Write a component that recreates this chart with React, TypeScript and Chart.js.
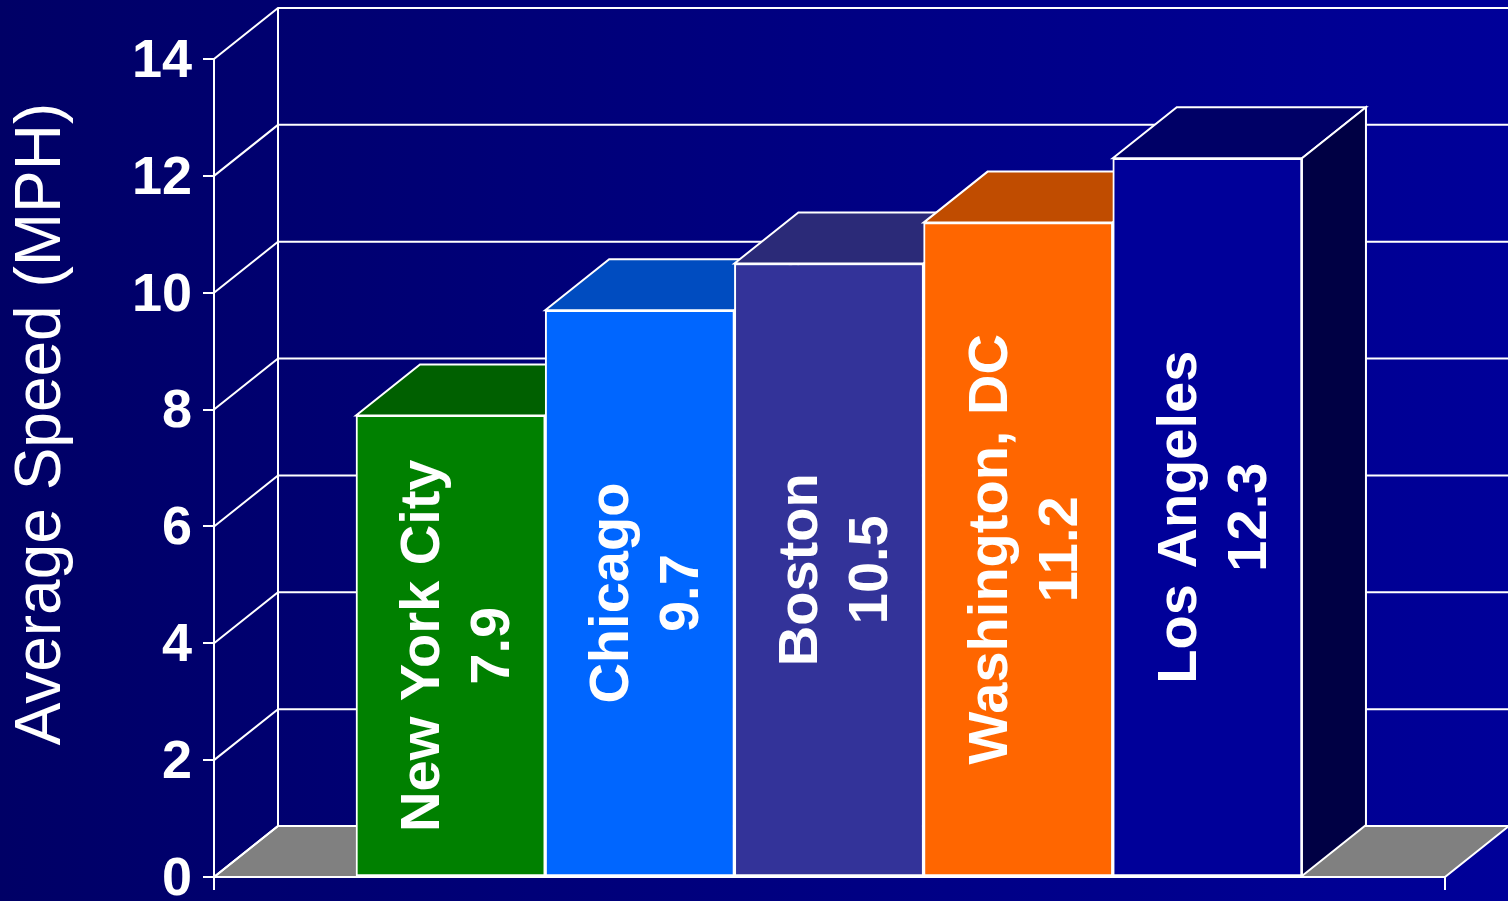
import React, { useEffect, useRef } from "react";
import { Chart, registerables } from "chart.js";

Chart.register(...registerables);

// ---- data ----
const cities = ["New York City", "Chicago", "Boston", "Washington, DC", "Los Angeles"];
const speeds = [7.9, 9.7, 10.5, 11.2, 12.3];
const frontColors = ["#008000", "#0066FF", "#333399", "#FF6600", "#000099"];
const topColors = ["#006000", "#004CC0", "#2B2A78", "#C04C00", "#000066"];
const sideColors = ["#004000", "#003A99", "#222266", "#883300", "#000044"];
const yMin = 0;
const yMax = 14;
const yStep = 2;
const yAxisTitle = "Average Speed (MPH)";

const FONT = "'Liberation Sans', Arial, Helvetica, sans-serif";
const DX = 64;
const DY = -51;

function poly(ctx: CanvasRenderingContext2D, pts: number[][], fill: string | null) {
  ctx.beginPath();
  ctx.moveTo(pts[0][0], pts[0][1]);
  for (let i = 1; i < pts.length; i++) ctx.lineTo(pts[i][0], pts[i][1]);
  ctx.closePath();
  if (fill) {
    ctx.fillStyle = fill;
    ctx.fill();
  }
  ctx.stroke();
}

const threeD = {
  id: "threeD",
  beforeDraw(chart: any) {
    const { ctx, chartArea, scales } = chart;
    const ys = scales.y;
    const L = chartArea.left;
    const R = chartArea.right;
    const y0 = ys.getPixelForValue(yMin);
    const yT = ys.getPixelForValue(yMax);
    ctx.save();
    ctx.strokeStyle = "#ffffff";
    ctx.lineWidth = 2;
    // floor
    poly(ctx, [[L, y0], [L + DX, y0 + DY], [R + DX, y0 + DY], [R, y0]], "#808080");
    // back wall grid lines + diagonals
    for (let v = yMin; v <= yMax; v += yStep) {
      const py = ys.getPixelForValue(v);
      ctx.beginPath();
      ctx.moveTo(L, py);
      ctx.lineTo(L + DX, py + DY);
      ctx.lineTo(R + DX + 4, py + DY);
      ctx.stroke();
    }
    // back wall left edge
    ctx.beginPath();
    ctx.moveTo(L + DX, yT + DY);
    ctx.lineTo(L + DX, y0 + DY);
    ctx.stroke();
    ctx.restore();
  },
  beforeDatasetsDraw(chart: any) {
    const { ctx } = chart;
    const meta = chart.getDatasetMeta(0);
    ctx.save();
    ctx.strokeStyle = "#ffffff";
    ctx.lineWidth = 2;
    ctx.lineJoin = "miter";
    meta.data.forEach((bar: any, i: number) => {
      const p = bar.getProps(["x", "y", "base", "width"], true);
      const l = p.x - p.width / 2;
      const r = p.x + p.width / 2;
      const top = p.y;
      const base = p.base;
      poly(ctx, [[l, top], [l + DX, top + DY], [r + DX, top + DY], [r, top]], topColors[i]);
      poly(ctx, [[r, top], [r + DX, top + DY], [r + DX, base + DY], [r, base]], sideColors[i]);
    });
    ctx.restore();
  },
  afterDatasetsDraw(chart: any) {
    const { ctx } = chart;
    const meta = chart.getDatasetMeta(0);
    ctx.save();
    ctx.fillStyle = "#ffffff";
    ctx.font = `bold 56px ${FONT}`;
    ctx.textAlign = "center";
    ctx.textBaseline = "middle";
    meta.data.forEach((bar: any, i: number) => {
      const p = bar.getProps(["x", "y", "base"], true);
      ctx.save();
      ctx.translate(p.x + 8, (p.y + p.base) / 2);
      ctx.rotate(-Math.PI / 2);
      ctx.fillText(cities[i], 0, -35);
      ctx.fillText(speeds[i].toFixed(1), 0, 35);
      ctx.restore();
    });
    ctx.restore();
  },
  afterDraw(chart: any) {
    const { ctx } = chart;
    ctx.save();
    ctx.fillStyle = "#ffffff";
    ctx.font = `64px ${FONT}`;
    ctx.textAlign = "center";
    ctx.textBaseline = "middle";
    ctx.translate(42, 424);
    ctx.rotate(-Math.PI / 2);
    ctx.fillText(yAxisTitle, 0, 0);
    ctx.restore();
  },
};

export default function App() {
  const ref = useRef<HTMLCanvasElement | null>(null);
  useEffect(() => {
    if (!ref.current) return;
    const chart = new Chart(ref.current, {
      type: "bar",
      data: {
        datasets: [
          {
            data: speeds.map((v, i) => ({ x: i, y: v })),
            backgroundColor: frontColors,
            borderColor: "#ffffff",
            borderWidth: 2,
            borderSkipped: false,
            barPercentage: 1,
            categoryPercentage: 1,
          },
        ],
      },
      options: {
        animation: false,
        responsive: false,
        maintainAspectRatio: false,
        layout: { padding: { left: 0, top: 59, right: 63, bottom: 11 } },
        plugins: { legend: { display: false }, tooltip: { enabled: false } },
        scales: {
          x: {
            type: "linear",
            bounds: "data",
            offset: false,
            min: -1.2505,
            max: 5.256,
            afterBuildTicks: (s: any) => {
              s.ticks = [{ value: s.min }, { value: s.max }];
            },
            afterFit: (s: any) => {
              s.height = 13;
              s.paddingLeft = 0;
              s.paddingRight = 0;
            },
            ticks: { display: false },
            grid: { offset: false, drawOnChartArea: false, color: "#ffffff", lineWidth: 2, tickLength: 13 },
            border: { display: true, color: "#ffffff", width: 2 },
          },
          y: {
            min: yMin,
            max: yMax,
            afterFit: (s: any) => {
              s.width = 214;
              s.paddingTop = 0;
              s.paddingBottom = 0;
            },
            ticks: {
              stepSize: yStep,
              color: "#ffffff",
              padding: 11,
              labelOffset: 3,
              font: { family: FONT, size: 54, weight: "bold" },
            },
            grid: { drawOnChartArea: false, color: "#ffffff", lineWidth: 2, tickLength: 11 },
            border: { display: true, color: "#ffffff", width: 2 },
          },
        },
      },
      plugins: [threeD],
    } as any);
    return () => chart.destroy();
  }, []);

  return (
    <div
      style={{
        position: "fixed",
        left: 0,
        top: 0,
        width: 1508,
        height: 901,
        background: "linear-gradient(to right, #000066 0%, #000099 100%)",
        overflow: "hidden",
      }}
    >
      <canvas ref={ref} width={1508} height={901} style={{ display: "block" }} />
    </div>
  );
}
